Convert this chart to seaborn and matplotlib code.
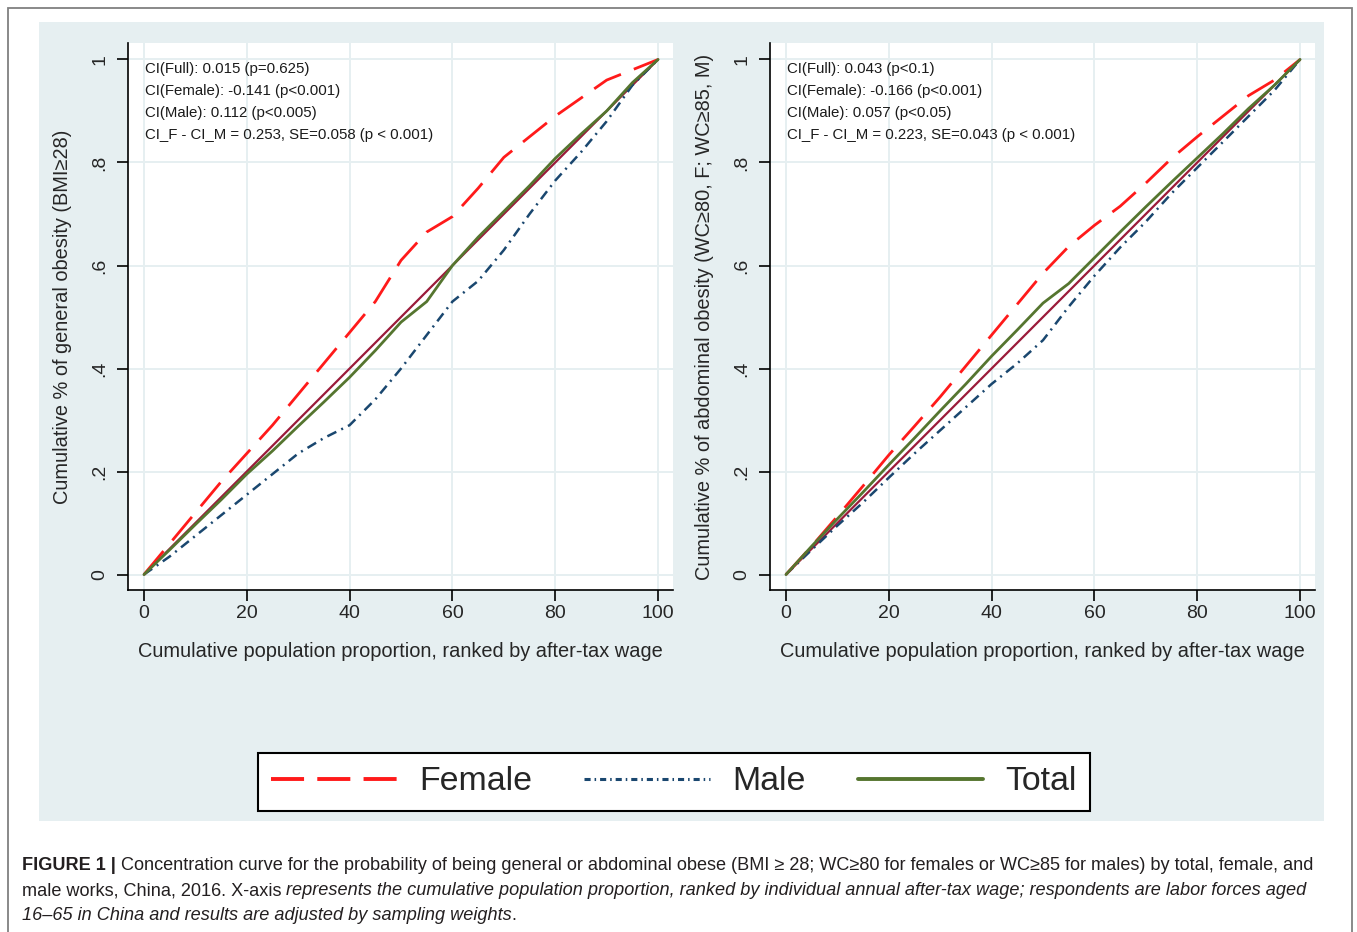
import matplotlib
matplotlib.use("Agg")
import matplotlib.pyplot as plt
import numpy as np
import pandas as pd
import seaborn as sns
from matplotlib.patches import Rectangle

# cumulative population share (x) and concentration-curve values
pop_share = [0, 5, 10, 15, 20, 25, 30, 35, 40, 45, 50, 55, 60, 65, 70, 75, 80, 85, 90, 95, 100]

general_female = [0, 0.06, 0.12, 0.18, 0.235, 0.29, 0.35, 0.41, 0.47, 0.53, 0.61, 0.665,
                  0.695, 0.75, 0.81, 0.85, 0.89, 0.925, 0.96, 0.98, 1.0]
general_male = [0, 0.035, 0.075, 0.115, 0.155, 0.195, 0.235, 0.265, 0.29, 0.34, 0.40, 0.465,
                0.53, 0.57, 0.63, 0.70, 0.765, 0.82, 0.88, 0.95, 1.0]
general_total = [0, 0.048, 0.097, 0.145, 0.195, 0.24, 0.288, 0.335, 0.383, 0.435, 0.49, 0.53,
                 0.60, 0.655, 0.705, 0.755, 0.808, 0.855, 0.90, 0.955, 1.0]

abdominal_female = [0, 0.055, 0.113, 0.172, 0.232, 0.288, 0.345, 0.405, 0.465, 0.525, 0.585,
                    0.637, 0.678, 0.715, 0.76, 0.808, 0.85, 0.89, 0.93, 0.96, 1.0]
abdominal_male = [0, 0.048, 0.095, 0.14, 0.188, 0.235, 0.28, 0.325, 0.37, 0.41, 0.455, 0.52,
                  0.58, 0.635, 0.685, 0.74, 0.79, 0.84, 0.89, 0.94, 1.0]
abdominal_total = [0, 0.055, 0.108, 0.16, 0.213, 0.265, 0.318, 0.37, 0.424, 0.475, 0.527, 0.565,
                   0.615, 0.665, 0.714, 0.762, 0.809, 0.856, 0.905, 0.95, 1.0]

equality_x = [0, 100]
equality_y = [0, 1]

general_notes = ["CI(Full): 0.015 (p=0.625)", "CI(Female): -0.141 (p<0.001)",
                 "CI(Male): 0.112 (p<0.005)", "CI_F - CI_M = 0.253, SE=0.058 (p < 0.001)"]
abdominal_notes = ["CI(Full): 0.043 (p<0.1)", "CI(Female): -0.166 (p<0.001)",
                   "CI(Male): 0.057 (p<0.05)", "CI_F - CI_M = 0.223, SE=0.043 (p < 0.001)"]

x_ticks = [0, 20, 40, 60, 80, 100]
y_ticks = [0, 0.2, 0.4, 0.6, 0.8, 1.0]
y_tick_labels = ["0", ".2", ".4", ".6", ".8", "1"]

x_label = "Cumulative population proportion, ranked by after-tax wage"
y_label_general = "Cumulative % of general obesity (BMI\u226528)"
y_label_abdominal = "Cumulative % of abdominal obesity (WC\u226580, F; WC\u226585, M)"

FEMALE_C = "#ff1a1a"
MALE_C = "#1a476f"
TOTAL_C = "#55752f"
DIAG_C = "#9b1b3a"
BG_C = "#e6eff1"
GRID_C = "#e6eff1"

sns.set_style("ticks")
plt.rcParams["font.family"] = ["Liberation Sans", "DejaVu Sans"]

W, H = 1357, 932


def box(left, top, right, bottom):
    return [left / W, 1 - bottom / H, (right - left) / W, (bottom - top) / H]


def draw_panel(ax, female, male, total, notes, ylabel):
    sns.lineplot(x=equality_x, y=equality_y, ax=ax, color=DIAG_C, linewidth=1.6, legend=False)
    sns.lineplot(x=pop_share, y=male, ax=ax, color=MALE_C, linewidth=1.8,
                 linestyle=(0, (4, 2.2, 0.8, 2.2)), legend=False, label="Male")
    sns.lineplot(x=pop_share, y=female, ax=ax, color=FEMALE_C, linewidth=2.0,
                 linestyle=(0, (11, 5)), legend=False, label="Female")
    sns.lineplot(x=pop_share, y=total, ax=ax, color=TOTAL_C, linewidth=2.0,
                 legend=False, label="Total")

    ax.set_facecolor("white")
    ax.set_xlim(-3.1, 102.9)
    ax.set_ylim(-0.030, 1.032)
    ax.set_xticks(x_ticks)
    ax.set_yticks(y_ticks)
    ax.set_yticklabels(y_tick_labels, rotation=90, va="center")
    ax.tick_params(axis="both", labelsize=14, length=8, width=1.2, color="black")
    ax.tick_params(axis="x", pad=3)
    ax.tick_params(axis="y", pad=6)
    ax.grid(True, color=GRID_C, linewidth=1.4)
    ax.set_axisbelow(True)
    for side in ["top", "right"]:
        ax.spines[side].set_visible(False)
    for side in ["left", "bottom"]:
        ax.spines[side].set_color("black")
        ax.spines[side].set_linewidth(1.2)

    ax.set_xlabel(x_label, fontsize=14.4, labelpad=14)
    ax.set_ylabel(ylabel, fontsize=14.4, labelpad=14)

    for i, note in enumerate(notes):
        ax.text(0.3, 0.982 - i * 0.0427, note, fontsize=10.8, va="center", ha="left",
                color="#1a1a1a")


fig = plt.figure(figsize=(W / 100, H / 100), dpi=100)
fig.patch.set_facecolor("white")

fig.patches.append(Rectangle((39 / W, 1 - 821 / H), (1324 - 39) / W, (821 - 22) / H,
                             transform=fig.transFigure, facecolor=BG_C, edgecolor="none",
                             zorder=-2))
fig.patches.append(Rectangle((8 / W, -0.02), (1352 - 8) / W, 1.02 - 8 / H,
                             transform=fig.transFigure, fill=False, edgecolor="#808080",
                             linewidth=1.3, zorder=-1))

ax1 = fig.add_axes(box(128, 43, 673, 590))
ax2 = fig.add_axes(box(770, 43, 1315, 590))

draw_panel(ax1, general_female, general_male, general_total, general_notes, y_label_general)
draw_panel(ax2, abdominal_female, abdominal_male, abdominal_total, abdominal_notes,
           y_label_abdominal)

handles, labels = ax1.get_legend_handles_labels()
order = [labels.index(k) for k in ["Female", "Male", "Total"]]
leg = fig.legend([handles[i] for i in order], [labels[i] for i in order],
                 loc="center", bbox_to_anchor=(674 / W, 1 - 782 / H), ncol=3,
                 frameon=True, fancybox=False, edgecolor="black", fontsize=24.4,
                 handlelength=3.7, handletextpad=0.65, columnspacing=1.55,
                 borderpad=0.4)
leg.get_frame().set_linewidth(1.5)
leg.get_frame().set_facecolor("white")
leg.get_frame().set_alpha(1)
leg_lines = leg.get_lines()
for line in leg_lines:
    line.set_linewidth(2.8)
leg_lines[0].set_linestyle((0, (8.5, 3.4)))
leg_lines[1].set_linestyle((0, (2.0, 1.3, 0.5, 1.3)))
leg_lines[1].set_linewidth(2.2)

# caption with mixed bold / italic runs
caption_lines = [
    [("FIGURE 1 |", "normal", "bold"),
     ("Concentration curve for the probability of being general or abdominal obese "
      "(BMI \u2265 28; WC\u226580 for females or WC\u226585 for males) by total, female, and",
      "normal", "normal")],
    [("male works, China, 2016. X-axis", "normal", "normal"),
     ("represents the cumulative population proportion, ranked by individual annual "
      "after-tax wage; respondents are labor forces aged", "italic", "normal")],
    [("16\u201365 in China and results are adjusted by sampling weights", "italic", "normal"),
     (".", "normal", "normal")],
]
caption_y = [870, 895, 920]

renderer = fig.canvas.get_renderer()


def text_width(s, size, style="normal", weight="normal"):
    t = fig.text(0, 0, s, fontsize=size, style=style, weight=weight)
    w = t.get_window_extent(renderer=renderer).width
    t.remove()
    return w


def line_width(runs, size):
    space = text_width("a a", size) - text_width("aa", size)
    total = sum(text_width(s, size, st, wt) for s, st, wt in runs)
    gaps = sum(1 for s, _, _ in runs[1:] if s != ".")
    return total + gaps * space


size = 12.0
size = size * (1323 - 22) / line_width(caption_lines[0], size)

space_w = text_width("a a", size) - text_width("aa", size)
for runs, yb in zip(caption_lines, caption_y):
    x = 22
    for k, (s, st, wt) in enumerate(runs):
        if k > 0 and s != ".":
            x += space_w
        t = fig.text(x / W, 1 - yb / H, s, fontsize=size, style=st, weight=wt,
                     va="baseline", ha="left", color="#231f20")
        x += t.get_window_extent(renderer=renderer).width

fig.savefig("out.png", dpi=100, facecolor="white")
